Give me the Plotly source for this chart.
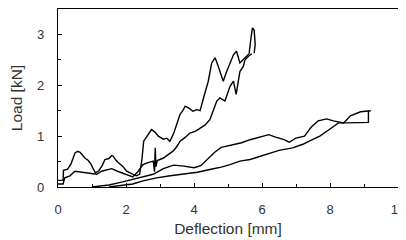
import plotly.graph_objects as go

# Curve A (upper, ends near 3.1 kN at ~5.7 mm)
a_x = [0, 0.15, 0.16, 0.28, 0.38, 0.5, 0.58, 0.65, 0.72, 0.79, 0.89, 0.97, 1.04, 1.1, 1.2, 1.3, 1.38, 1.5, 1.58, 1.63, 1.7, 1.77, 1.9, 2.02, 2.15, 2.3, 2.4, 2.47, 2.52, 2.62, 2.75, 2.85, 2.95, 3.1, 3.2, 3.29, 3.4, 3.5, 3.59, 3.67, 3.74, 3.85, 3.97, 4.08, 4.18, 4.3, 4.42, 4.52, 4.62, 4.7, 4.78, 4.86, 4.95, 5.06, 5.16, 5.25, 5.35, 5.5, 5.62, 5.68, 5.72, 5.77, 5.8, 5.77]
a_y = [0.13, 0.13, 0.33, 0.35, 0.45, 0.67, 0.7, 0.68, 0.63, 0.57, 0.52, 0.45, 0.35, 0.28, 0.32, 0.42, 0.54, 0.56, 0.62, 0.6, 0.53, 0.48, 0.41, 0.31, 0.27, 0.22, 0.25, 0.55, 0.9, 1.0, 1.13, 1.08, 1.0, 0.94, 0.96, 0.9, 1.05, 1.25, 1.43, 1.5, 1.59, 1.55, 1.49, 1.52, 1.5, 1.8, 2.08, 2.44, 2.54, 2.4, 2.25, 2.08, 2.25, 2.44, 2.6, 2.67, 2.44, 2.54, 2.62, 2.95, 3.13, 3.08, 2.8, 2.63]

# Curve B (lower of the pair reaching ~3 kN)
b_x = [0, 0.15, 0.2, 0.35, 0.5, 0.7, 0.85, 1.0, 1.14, 1.28, 1.45, 1.58, 1.75, 1.87, 2.07, 2.2, 2.35, 2.5, 2.65, 2.8, 2.84, 2.86, 2.88, 2.92, 3.1, 3.25, 3.39, 3.5, 3.59, 3.75, 3.88, 4.05, 4.18, 4.33, 4.47, 4.57, 4.67, 4.76, 4.91, 5.06, 5.16, 5.24, 5.35, 5.45, 5.5, 5.6, 5.7]
b_y = [0.06, 0.06, 0.18, 0.22, 0.31, 0.29, 0.27, 0.25, 0.25, 0.31, 0.33, 0.36, 0.31, 0.28, 0.22, 0.2, 0.3, 0.44, 0.48, 0.51, 0.3, 0.77, 0.4, 0.52, 0.57, 0.65, 0.71, 0.8, 0.9, 0.98, 1.06, 1.1, 1.16, 1.22, 1.33, 1.5, 1.69, 1.75, 1.69, 1.98, 2.08, 1.82, 2.27, 2.37, 2.5, 2.57, 2.62]

# Curve C (upper of the pair ending at ~9.2 mm)
c_x = [1.0, 1.5, 1.9, 2.2, 2.5, 2.8, 3.1, 3.4, 3.7, 4.0, 4.2, 4.4, 4.6, 4.8, 5.1, 5.4, 5.65, 5.95, 6.2, 6.4, 6.65, 6.8, 7.0, 7.25, 7.45, 7.65, 7.9, 8.1, 8.4, 8.6, 8.9, 9.2]
c_y = [0.0, 0.04, 0.1, 0.15, 0.2, 0.25, 0.36, 0.43, 0.41, 0.38, 0.42, 0.55, 0.68, 0.78, 0.82, 0.87, 0.93, 0.98, 1.03, 0.98, 0.93, 0.88, 0.96, 1.0, 1.18, 1.3, 1.34, 1.3, 1.26, 1.4, 1.48, 1.5]

# Curve D (lowest, ends with vertical rise at ~9.1 mm)
d_x = [1.5, 1.9, 2.2, 2.5, 2.9, 3.3, 3.7, 4.1, 4.5, 4.8, 5.06, 5.35, 5.65, 6.04, 6.5, 6.9, 7.2, 7.45, 7.7, 8.0, 8.25, 8.5, 8.8, 9.13, 9.13]
d_y = [0.0, 0.04, 0.06, 0.12, 0.18, 0.22, 0.25, 0.29, 0.35, 0.39, 0.44, 0.51, 0.54, 0.62, 0.72, 0.77, 0.84, 0.92, 1.0, 1.14, 1.26, 1.26, 1.26, 1.27, 1.5]

fig = go.Figure()
for xs, ys in [(a_x, a_y), (b_x, b_y), (c_x, c_y), (d_x, d_y)]:
    fig.add_trace(go.Scatter(x=xs, y=ys, mode="lines",
                             line=dict(color="black", width=1.4),
                             showlegend=False, hoverinfo="skip"))

font = dict(family="Liberation Sans, Arial, sans-serif", size=13, color="#333333")
tfont = dict(family="Liberation Sans, Arial, sans-serif", size=15.5, color="#333333")
# the page body adds an 8px offset, so the figure is sized to fill the rest of the window
fig.update_layout(
    width=398, height=232,
    margin=dict(l=50, r=8, t=1, b=53),
    paper_bgcolor="white", plot_bgcolor="white",
    font=font,
    showlegend=False,
)
fig.update_xaxes(
    range=[0, 10], tickvals=[0, 2, 4, 6, 8, 10],
    ticks="inside", ticklen=4, tickcolor="black",
    minor=dict(dtick=1, ticks="inside", ticklen=3, tickcolor="black"),
    showline=True, linecolor="black", linewidth=1.2, mirror=True,
    showgrid=False, zeroline=False, automargin=False,
    ticklabelstandoff=10,
    title=dict(text="Deflection [mm]", font=tfont, standoff=7),
)
fig.update_yaxes(
    range=[0, 3.5], tickvals=[0, 1, 2, 3],
    ticks="inside", ticklen=4, tickcolor="black",
    minor=dict(dtick=0.5, ticks="inside", ticklen=3, tickcolor="black"),
    showline=True, linecolor="black", linewidth=1.2, mirror=True,
    showgrid=False, zeroline=False, automargin=False,
    ticklabelstandoff=10,
    title=dict(text="Load [kN]", font=tfont, standoff=15),
)
fig.write_html("out.html")
